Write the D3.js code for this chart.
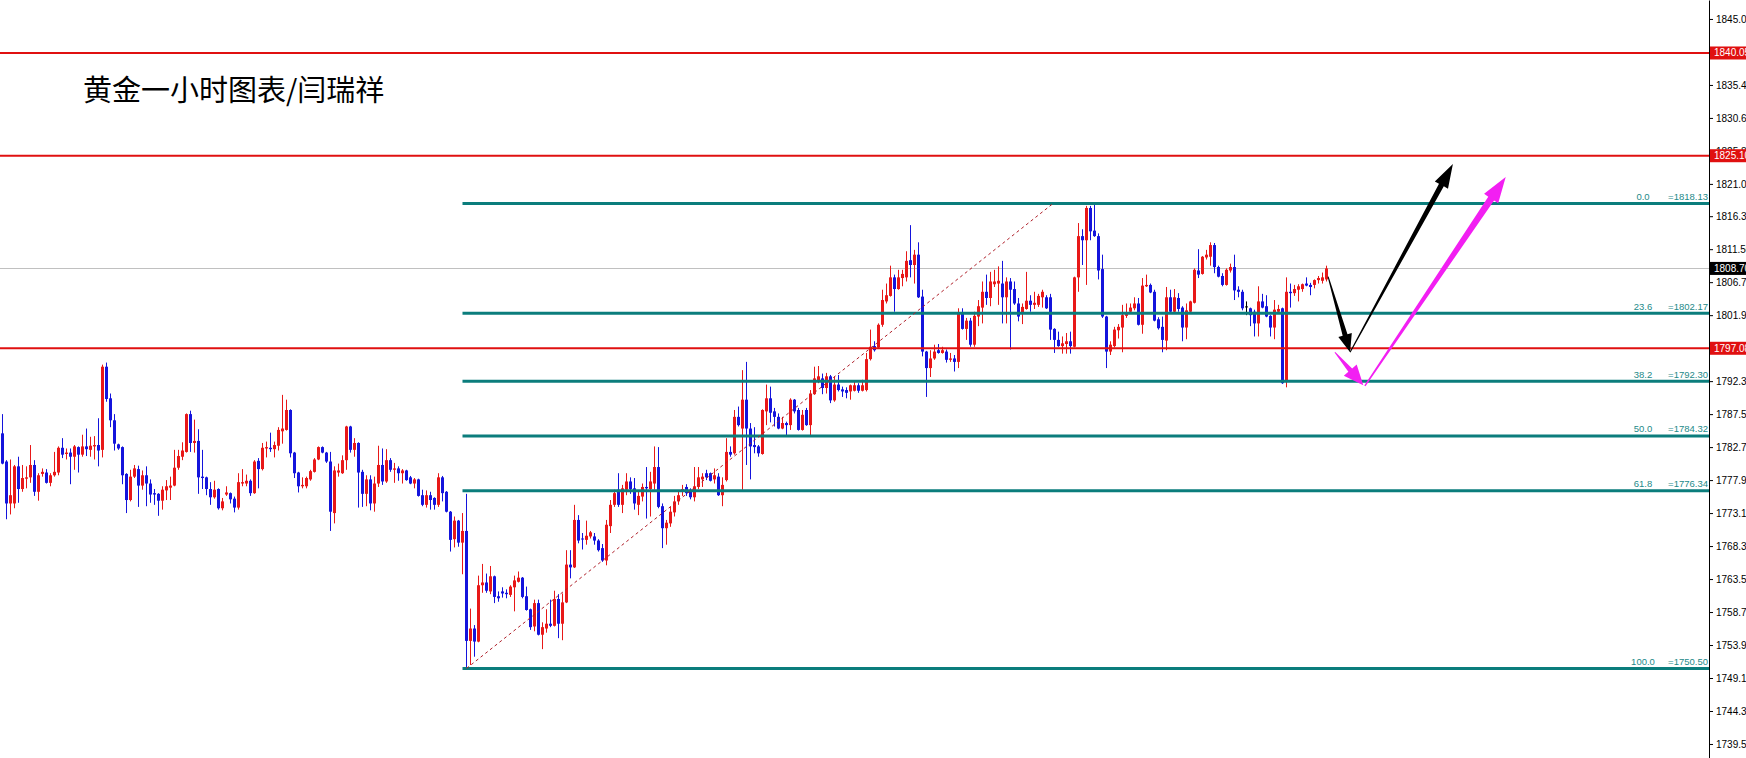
<!DOCTYPE html>
<html><head><meta charset="utf-8">
<script src="https://cdn.jsdelivr.net/npm/d3@7"></script>
<style>html,body{margin:0;padding:0;background:#fff;overflow:hidden}</style>
</head><body>
<svg id="c" width="1746" height="758"></svg>
<script>
const title = "黄金一小时图表/闫瑞祥";
// [open, high, low, close] per hourly bar
const ohlc = [
[1784.7,1787.5,1780.2,1780.3],[1780.6,1780.8,1772.2,1774.5],[1774.5,1780.9,1772.9,1775.7],[1774.5,1780.1,1773.8,1779.9],
[1779.9,1781.3,1774.6,1776.6],[1776.6,1780.1,1776.2,1778.2],[1778.1,1779.9,1776.7,1778.3],[1778.3,1783.0,1777.5,1780.1],
[1780.1,1780.8,1775.6,1776.2],[1776.2,1778.9,1774.9,1778.6],[1778.8,1779.6,1778.4,1779.1],[1779.0,1779.5,1777.4,1777.5],
[1777.5,1778.9,1777.0,1778.6],[1778.6,1782.0,1778.4,1779.1],[1779.0,1782.8,1778.6,1782.6],[1782.6,1784.0,1781.1,1781.6],
[1781.7,1782.5,1780.9,1781.9],[1781.9,1782.5,1777.3,1781.3],[1781.3,1783.0,1779.4,1782.8],[1782.7,1782.8,1779.0,1781.6],
[1781.6,1784.5,1781.3,1782.8],[1782.8,1785.4,1781.4,1782.4],[1782.3,1784.2,1781.3,1782.9],[1782.8,1784.3,1780.9,1783.0],
[1783.0,1786.9,1779.9,1782.2],[1782.3,1794.7,1781.2,1794.4],[1794.4,1795.0,1789.3,1789.7],[1789.8,1790.5,1785.6,1786.6],
[1786.6,1787.5,1782.2,1783.2],[1783.1,1783.2,1782.3,1782.5],[1782.7,1782.8,1777.3,1778.6],[1778.8,1778.9,1773.1,1775.0],
[1775.0,1779.4,1774.8,1778.4],[1778.4,1780.1,1778.2,1779.6],[1779.5,1780.0,1774.0,1777.1],[1777.1,1779.3,1776.5,1778.6],
[1778.6,1779.9,1774.1,1777.4],[1777.4,1778.0,1774.6,1775.8],[1776.0,1776.6,1774.3,1775.8],[1775.9,1776.0,1772.7,1774.9],
[1774.9,1777.0,1773.6,1776.5],[1776.4,1777.9,1775.0,1777.0],[1776.8,1778.4,1775.0,1777.1],[1777.1,1782.3,1777.0,1779.7],
[1779.7,1782.3,1779.4,1781.4],[1781.3,1783.4,1780.8,1782.2],[1782.0,1787.6,1781.9,1787.5],[1787.5,1788.0,1782.0,1783.3],
[1783.3,1786.7,1781.9,1783.6],[1783.6,1785.3,1775.9,1778.3],[1778.4,1782.3,1776.6,1778.2],[1778.3,1778.4,1775.7,1776.6],
[1776.6,1777.6,1774.3,1775.4],[1775.4,1777.8,1775.2,1776.5],[1776.6,1776.7,1773.6,1773.8],[1773.8,1775.3,1773.5,1774.8],
[1775.8,1777.0,1775.6,1776.1],[1776.0,1776.1,1774.5,1775.1],[1775.2,1775.5,1773.2,1773.9],[1773.9,1778.9,1773.6,1777.6],
[1777.4,1779.5,1777.0,1777.6],[1777.4,1778.7,1777.0,1777.8],[1777.8,1778.0,1775.6,1776.0],[1776.0,1780.8,1775.9,1780.6],
[1780.7,1781.1,1776.7,1779.5],[1779.5,1783.3,1779.3,1782.6],[1782.5,1783.5,1781.2,1782.7],[1782.6,1784.8,1782.0,1782.4],
[1782.4,1783.5,1781.2,1783.0],[1782.9,1785.6,1782.2,1785.2],[1785.0,1790.3,1783.2,1785.4],[1785.2,1789.6,1785.1,1788.1],
[1788.1,1788.2,1781.2,1781.8],[1781.9,1782.0,1778.2,1778.9],[1779.0,1779.1,1776.1,1777.0],[1777.0,1778.3,1776.7,1777.2],
[1777.0,1778.4,1776.7,1778.2],[1778.0,1779.4,1777.8,1779.2],[1779.1,1781.1,1779.0,1780.9],[1780.9,1782.8,1780.8,1782.7],
[1782.7,1782.8,1781.8,1781.9],[1781.9,1782.0,1780.4,1780.6],[1780.6,1782.0,1770.5,1773.3],[1773.1,1779.9,1771.6,1779.3],
[1779.0,1780.3,1778.4,1779.3],[1778.9,1781.5,1778.8,1780.8],[1780.8,1785.8,1779.4,1785.7],[1785.7,1785.8,1781.9,1782.3],
[1782.3,1784.0,1781.3,1783.3],[1783.3,1783.4,1773.9,1779.0],[1779.1,1779.4,1774.0,1775.9],[1775.9,1778.6,1774.1,1778.0],
[1778.0,1778.6,1773.5,1774.5],[1774.5,1778.4,1773.3,1777.4],[1777.4,1782.9,1776.9,1780.1],[1780.1,1782.5,1777.2,1777.7],
[1777.7,1782.4,1777.5,1780.8],[1780.8,1781.1,1779.1,1779.4],[1779.4,1780.4,1777.5,1779.6],[1779.6,1779.9,1777.8,1778.9],
[1778.9,1779.5,1777.4,1779.3],[1779.3,1779.4,1777.8,1777.9],[1778.3,1778.5,1777.3,1777.4],[1777.4,1778.2,1776.7,1778.0],
[1778.0,1778.1,1775.5,1775.6],[1775.7,1776.5,1774.1,1774.3],[1774.3,1776.4,1773.9,1775.7],[1775.7,1776.2,1773.6,1775.0],
[1775.3,1775.4,1773.6,1774.3],[1774.3,1778.9,1774.0,1778.3],[1778.3,1778.5,1774.8,1776.0],[1776.2,1776.3,1773.2,1773.3],
[1773.3,1773.4,1767.5,1769.2],[1769.3,1772.6,1768.1,1772.0],[1772.0,1772.1,1768.2,1768.8],[1768.8,1773.1,1764.2,1770.5],
[1770.5,1775.9,1750.5,1754.5],[1754.5,1759.2,1751.0,1756.3],[1756.3,1756.8,1752.2,1754.4],[1754.4,1764.0,1754.3,1762.6],
[1762.6,1765.7,1761.5,1763.0],[1763.0,1764.3,1761.5,1761.8],[1761.7,1765.4,1761.3,1763.9],[1763.9,1764.0,1760.0,1760.9],
[1761.0,1761.7,1760.2,1760.7],[1761.7,1762.3,1760.8,1761.4],[1761.5,1762.0,1760.7,1761.3],[1761.2,1762.6,1760.9,1762.4],
[1762.3,1764.0,1758.8,1763.3],[1763.1,1764.6,1763.0,1763.7],[1763.7,1763.8,1760.7,1760.9],[1761.0,1762.4,1758.9,1759.0],
[1759.1,1759.2,1756.1,1756.5],[1756.6,1760.5,1755.9,1760.0],[1760.0,1760.5,1755.3,1755.4],[1755.4,1757.2,1753.3,1756.5],
[1756.3,1759.1,1755.7,1757.0],[1757.0,1760.5,1756.5,1756.7],[1756.7,1761.8,1756.6,1760.6],[1760.6,1761.3,1754.9,1757.0],
[1757.0,1761.4,1754.6,1760.1],[1760.1,1767.7,1760.0,1765.6],[1765.6,1767.7,1763.6,1765.2],[1765.2,1774.3,1765.1,1772.1],
[1772.1,1772.8,1768.7,1769.1],[1769.4,1770.2,1767.8,1769.3],[1769.2,1772.0,1768.5,1769.8],[1769.7,1770.5,1769.4,1770.3],
[1769.7,1770.2,1768.5,1769.1],[1769.1,1769.3,1767.5,1767.7],[1768.0,1768.6,1766.0,1766.2],[1766.2,1772.1,1765.5,1771.4],
[1771.2,1775.0,1770.2,1774.3],[1774.3,1776.5,1774.0,1776.0],[1776.5,1778.9,1774.0,1774.3],[1774.3,1777.2,1773.1,1776.7],
[1776.5,1778.9,1775.7,1777.7],[1777.7,1778.3,1775.9,1776.6],[1776.7,1778.2,1773.6,1774.5],[1774.3,1776.2,1772.8,1775.6],
[1775.5,1777.4,1774.8,1776.9],[1776.9,1779.8,1772.3,1776.7],[1776.6,1779.1,1772.6,1777.7],[1777.4,1782.8,1776.5,1779.8],
[1779.8,1782.7,1773.8,1774.0],[1774.1,1774.5,1768.0,1770.9],[1770.9,1772.1,1768.5,1771.7],[1771.6,1774.0,1771.1,1773.3],
[1773.2,1775.6,1772.6,1774.8],[1774.8,1776.2,1774.3,1775.7],[1776.2,1777.2,1775.6,1776.6],[1776.9,1777.3,1775.6,1776.0],
[1776.5,1776.7,1775.1,1775.4],[1775.4,1779.8,1774.8,1777.0],[1776.9,1779.8,1776.6,1778.3],[1778.0,1778.9,1776.9,1778.4],
[1778.9,1779.4,1777.9,1778.3],[1778.9,1779.0,1777.7,1777.8],[1778.0,1779.6,1777.4,1778.6],[1778.4,1778.9,1775.6,1775.7],
[1775.7,1778.3,1774.1,1777.2],[1777.9,1784.0,1777.7,1782.0],[1782.0,1782.8,1781.3,1781.6],[1781.8,1788.1,1781.6,1787.1],
[1787.1,1788.6,1785.7,1785.9],[1785.4,1793.9,1776.5,1789.6],[1789.6,1795.1,1780.1,1785.4],[1785.4,1786.2,1778.0,1782.8],
[1783.0,1785.6,1781.8,1782.7],[1782.8,1783.0,1781.3,1781.8],[1781.7,1788.2,1781.6,1788.1],[1787.9,1791.8,1785.9,1789.8],
[1789.8,1791.5,1786.3,1787.7],[1787.9,1788.4,1785.7,1787.1],[1787.1,1787.6,1785.3,1785.4],[1785.4,1787.1,1785.3,1786.2],
[1786.2,1786.4,1784.3,1785.9],[1785.9,1789.8,1785.2,1789.6],[1789.6,1789.7,1787.6,1787.9],[1788.1,1788.4,1785.1,1785.2],
[1785.2,1788.1,1785.1,1787.4],[1788.1,1788.4,1785.8,1785.9],[1785.9,1791.0,1784.2,1790.5],[1790.4,1794.4,1790.3,1792.7],
[1792.4,1794.5,1792.0,1793.0],[1792.7,1793.4,1790.4,1791.3],[1791.3,1793.5,1790.5,1793.0],[1793.0,1793.2,1789.1,1789.5],
[1789.5,1793.0,1789.3,1791.8],[1791.8,1793.2,1790.8,1791.0],[1791.1,1791.5,1790.0,1790.8],[1791.0,1791.4,1789.8,1790.6],
[1790.8,1791.8,1789.6,1791.7],[1790.9,1792.2,1790.8,1791.7],[1791.7,1792.0,1790.6,1790.9],[1790.9,1792.5,1790.8,1791.7],
[1791.0,1796.4,1790.8,1795.5],[1795.5,1799.8,1795.3,1797.3],[1797.4,1798.1,1796.6,1796.8],[1797.2,1800.7,1797.1,1800.5],
[1800.5,1805.6,1800.2,1804.1],[1803.9,1806.5,1803.6,1804.8],[1804.7,1809.1,1804.6,1807.4],[1807.4,1807.8,1802.4,1805.7],
[1805.7,1808.5,1805.6,1807.4],[1807.3,1808.5,1806.1,1807.9],[1807.4,1811.2,1806.8,1809.8],[1809.9,1815.0,1807.4,1809.2],
[1809.2,1811.4,1806.5,1810.7],[1810.7,1812.5,1804.4,1804.5],[1804.6,1805.6,1795.9,1796.6],[1796.6,1796.7,1790.0,1794.2],
[1794.2,1796.8,1792.9,1795.6],[1795.6,1797.6,1795.4,1796.6],[1796.8,1797.7,1796.3,1796.4],[1796.4,1797.3,1796.3,1796.8],
[1796.6,1796.9,1795.0,1795.4],[1795.4,1796.4,1795.1,1795.6],[1795.6,1796.1,1793.7,1795.1],[1795.1,1802.9,1794.2,1802.2],
[1802.2,1802.9,1799.8,1799.9],[1799.9,1801.5,1798.3,1801.1],[1801.1,1801.5,1797.3,1797.6],[1797.6,1802.4,1797.3,1801.8],
[1801.7,1804.1,1800.3,1803.2],[1803.0,1806.8,1800.7,1805.3],[1805.3,1807.8,1803.4,1804.4],[1804.4,1808.2,1803.2,1806.8],
[1806.4,1808.5,1806.0,1806.8],[1806.5,1809.0,1803.4,1806.9],[1806.5,1809.8,1800.7,1804.5],[1804.5,1807.4,1800.7,1806.8],
[1806.8,1807.3,1796.9,1805.6],[1805.7,1806.8,1803.4,1803.6],[1803.6,1804.4,1801.0,1801.7],[1802.2,1803.6,1800.6,1803.1],
[1802.8,1808.2,1802.7,1804.0],[1804.0,1804.8,1802.4,1803.4],[1803.4,1805.3,1802.8,1803.7],[1803.4,1805.0,1803.1,1804.7],
[1804.5,1805.6,1803.0,1805.3],[1804.5,1804.8,1802.8,1802.9],[1804.5,1805.0,1798.3,1799.8],[1799.9,1800.0,1796.4,1798.3],
[1798.3,1799.5,1797.3,1797.4],[1797.4,1798.8,1796.3,1797.8],[1797.7,1799.3,1796.3,1798.1],[1798.1,1799.5,1796.3,1797.4],
[1797.3,1807.5,1797.2,1807.4],[1807.4,1815.3,1805.3,1813.4],[1813.4,1814.4,1809.2,1812.8],[1812.8,1817.8,1806.3,1817.5],
[1817.5,1817.8,1812.8,1814.1],[1814.2,1818.1,1813.3,1813.4],[1813.4,1813.8,1807.1,1808.4],[1808.6,1810.7,1801.5,1801.7],
[1801.7,1801.8,1794.2,1796.6],[1796.6,1798.1,1796.1,1797.6],[1797.4,1800.2,1797.2,1799.8],[1799.7,1800.6,1798.5,1800.2],
[1800.1,1803.4,1796.5,1801.9],[1801.8,1803.6,1801.5,1802.2],[1802.4,1803.6,1802.3,1803.0],[1802.9,1804.5,1802.6,1803.6],
[1803.6,1804.4,1800.4,1800.5],[1800.5,1807.3,1799.2,1806.2],[1806.1,1807.8,1806.0,1806.3],[1806.3,1806.5,1805.1,1805.2],
[1805.3,1805.6,1801.0,1801.1],[1801.3,1801.6,1799.8,1800.0],[1800.2,1801.7,1796.5,1798.3],[1798.2,1806.0,1796.8,1804.5],
[1804.5,1805.6,1802.3,1802.4],[1802.4,1805.7,1802.3,1804.5],[1804.4,1805.1,1802.4,1802.8],[1803.0,1803.2,1798.1,1800.1],
[1800.1,1803.6,1798.4,1802.6],[1802.4,1804.0,1802.2,1803.9],[1803.7,1808.7,1803.6,1808.5],[1808.4,1811.5,1807.3,1807.8],
[1807.9,1810.5,1807.8,1810.4],[1810.3,1811.4,1810.0,1810.7],[1810.4,1812.5,1809.1,1812.1],[1812.1,1812.4,1808.0,1808.9],
[1808.9,1809.1,1807.4,1807.5],[1807.6,1808.0,1806.1,1806.3],[1806.3,1808.7,1806.2,1808.5],[1808.4,1809.4,1808.1,1808.9],
[1808.9,1810.7,1804.1,1805.5],[1805.6,1806.1,1804.5,1805.3],[1805.3,1805.6,1802.6,1802.9],[1803.1,1803.9,1801.9,1803.1],
[1802.9,1803.0,1800.3,1801.9],[1802.4,1802.7,1798.8,1800.7],[1800.7,1806.1,1798.8,1803.9],[1803.9,1805.0,1802.9,1803.0],
[1803.2,1804.8,1801.6,1801.7],[1801.8,1801.9,1798.8,1800.1],[1800.1,1804.1,1798.4,1802.7],[1802.4,1803.4,1802.2,1802.8],
[1802.9,1803.0,1791.9,1792.0],[1792.4,1807.4,1791.4,1805.3],[1805.3,1806.5,1803.0,1805.1],[1805.1,1806.3,1804.7,1805.7],
[1805.6,1806.4,1803.9,1806.1],[1805.7,1806.5,1805.3,1806.4],[1806.5,1807.4,1806.1,1806.2],[1806.3,1806.6,1804.8,1806.0],
[1806.3,1807.1,1805.8,1807.0],[1807.0,1807.6,1806.5,1807.3],[1806.9,1808.1,1806.5,1807.4],[1807.1,1809.1,1806.8,1808.7]
];
const tickValues = [1845.00,1840.20,1835.40,1830.60,1825.80,1821.00,1816.30,1811.50,1806.70,1801.90,1797.10,
  1792.30,1787.50,1782.70,1777.90,1773.10,1768.30,1763.50,1758.70,1753.90,1749.10,1744.30,1739.50];
const redLevels = [1840.05, 1825.10, 1797.08];
const bidPrice = 1808.70;
const fibRatios = ["0.0","23.6","38.2","50.0","61.8","100.0"];
const fibPrices = [1818.13, 1802.17, 1792.30, 1784.32, 1776.34, 1750.50];
const fibStartIdx = 115;
const fibTrend = [[116, 1750.50],[262.6, 1818.13]];
// forecast arrows: [from, to] as [bar index, price]
const blackArrows = [[[331.4,1807.5],[336.9,1796.5]], [[336.9,1796.5],[362.6,1823.9]]];
const pinkArrows = [[[333.1,1796.5],[340.2,1791.7]], [[340.6,1791.6],[375.8,1822.0]]];

const W = 1746, H = 758, axisX = 1709;
const svg = d3.select("#c");
const x = d3.scaleLinear().domain([0, 331]).range([2.5, 1326.5]);
const y = d3.scaleLinear().domain([1737.46, 1847.76]).range([H, 0]);

const RED = "#e81818", BLUE = "#1414dc", TEAL = "#0b7d7c", LINE_RED = "#e01010";

// bid line (background)
svg.append("line").attr("x1",0).attr("x2",axisX).attr("y1",Math.round(y(bidPrice))+0.5).attr("y2",Math.round(y(bidPrice))+0.5)
  .attr("stroke","#c0c0c0").attr("stroke-width",1);

// candles
const cg = svg.append("g");
ohlc.forEach((d,i)=>{
  const [o,h,l,c] = d;
  const col = c>o ? RED : (c<o ? BLUE : "#000");
  const cx = x(i);
  cg.append("line").attr("x1",cx).attr("x2",cx).attr("y1",y(h)).attr("y2",y(l)).attr("stroke",col).attr("stroke-width",1);
  const top = y(Math.max(o,c)), bot = y(Math.min(o,c));
  if (c===o) {
    cg.append("line").attr("x1",cx-1.5).attr("x2",cx+1.5).attr("y1",top).attr("y2",top).attr("stroke",col).attr("stroke-width",1);
  } else {
    cg.append("rect").attr("x",cx-1.5).attr("y",top).attr("width",3).attr("height",Math.max(1,bot-top)).attr("fill",col);
  }
});

// red horizontal levels
redLevels.forEach(p=>{
  svg.append("line").attr("x1",0).attr("x2",axisX).attr("y1",y(p)).attr("y2",y(p)).attr("stroke",LINE_RED).attr("stroke-width",2);
});

// fib levels
fibPrices.forEach((p,k)=>{
  svg.append("line").attr("x1",x(fibStartIdx)).attr("x2",axisX).attr("y1",y(p)).attr("y2",y(p))
    .attr("stroke",TEAL).attr("stroke-width",3);
  svg.append("text").attr("x",1643).attr("y",y(p)-3.5).attr("text-anchor","middle")
    .attr("font-family","Liberation Sans, Arial, sans-serif").attr("font-size","9.5px").attr("fill","#1d8a89").text(fibRatios[k]);
  svg.append("text").attr("x",1708).attr("y",y(p)-3.5).attr("text-anchor","end")
    .attr("font-family","Liberation Sans, Arial, sans-serif").attr("font-size","9.5px").attr("fill","#1d8a89").text("=" + p.toFixed(2));
});
// fib trend (dashed)
svg.append("line").attr("x1",x(fibTrend[0][0])).attr("y1",y(fibTrend[0][1])).attr("x2",x(fibTrend[1][0])).attr("y2",y(fibTrend[1][1]))
  .attr("stroke","#b0202a").attr("stroke-width",1).attr("stroke-dasharray","3,3");

// arrows
function arrowPoly(p0,p1,w0,w1,L,Wd){
  const dx=p1[0]-p0[0], dy=p1[1]-p0[1], len=Math.hypot(dx,dy);
  const ux=dx/len, uy=dy/len, nx=-uy, ny=ux;
  const bx=p1[0]-ux*L, by=p1[1]-uy*L;
  return [[p0[0]+nx*w0/2,p0[1]+ny*w0/2],[bx+nx*w1/2,by+ny*w1/2],[bx+nx*Wd/2,by+ny*Wd/2],[p1[0],p1[1]],
          [bx-nx*Wd/2,by-ny*Wd/2],[bx-nx*w1/2,by-ny*w1/2],[p0[0]-nx*w0/2,p0[1]-ny*w0/2]];
}
const blackSizes = [[1,5,18,14],[1,5.5,24,15]];
const pinkSizes = [[1,5,20,17],[1.5,7,26,17]];
function drawArrows(list, sizes, col){
  list.forEach((a,k)=>{
    const p0=[x(a[0][0]),y(a[0][1])], p1=[x(a[1][0]),y(a[1][1])];
    const s=sizes[k];
    svg.append("polygon").attr("points",arrowPoly(p0,p1,s[0],s[1],s[2],s[3]).map(p=>p.join(",")).join(" ")).attr("fill",col);
  });
}
drawArrows(pinkArrows, pinkSizes, "#f21ff2");
drawArrows(blackArrows, blackSizes, "#000");

// price axis
const ax = svg.append("g").attr("transform",`translate(${axisX},0)`)
  .call(d3.axisRight(y).tickValues(tickValues).tickSize(4).tickSizeOuter(0).tickPadding(3).tickFormat(d=>d.toFixed(2)));
ax.select(".domain").attr("stroke","#000");
ax.selectAll(".tick line").attr("stroke","#000");
ax.selectAll("text").attr("font-family","Liberation Sans, Arial, sans-serif").attr("font-size","10px").attr("fill","#000");

// axis labels (boxes)
function axisBox(p, bg){
  svg.append("rect").attr("x",axisX+1).attr("y",y(p)-6.5).attr("width",40).attr("height",13).attr("fill",bg);
  svg.append("text").attr("x",axisX+5).attr("y",y(p)).attr("dominant-baseline","central")
    .attr("font-family","Liberation Sans, Arial, sans-serif").attr("font-size","10px").attr("fill","#fff").text(p.toFixed(2));
}
redLevels.forEach(p=>axisBox(p, LINE_RED));
axisBox(bidPrice, "#000");

// title
svg.append("text").attr("x",83).attr("y",88).attr("dominant-baseline","central")
  .attr("font-family","Noto Sans CJK SC, sans-serif").attr("font-size","29px").attr("fill","#000").text(title);
</script>
</body></html>
